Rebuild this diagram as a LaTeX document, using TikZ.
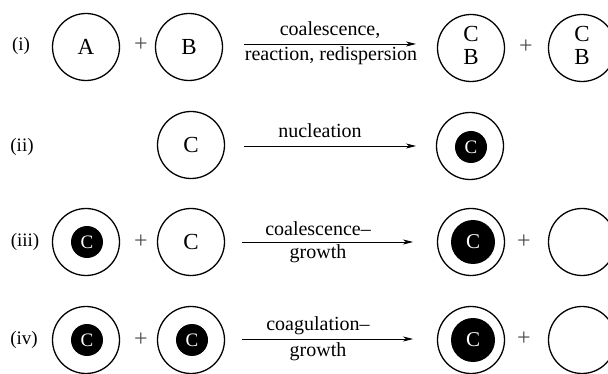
\documentclass[tikz,border=0pt]{standalone}
\usepackage{fontspec}
\setmainfont{Liberation Serif}
\newfontfamily\tms[Ligatures=TeX]{Liberation Serif}
\usetikzlibrary{arrows.meta}
\begin{document}
\begin{tikzpicture}[x=1pt,y=-1pt,
  drop/.style={circle,draw,line width=1.3pt,minimum size=67pt,inner sep=0pt,font=\tms\fontsize{23}{24}\selectfont},
  letter/.style={inner sep=0pt,font=\tms\fontsize{23}{24}\selectfont},
  coresmall/.style={circle,fill=black,minimum size=32pt,inner sep=0pt,text=white,font=\tms\fontsize{19}{20}\selectfont},
  corebig/.style={circle,fill=black,minimum size=44pt,inner sep=0pt,text=white,font=\tms\fontsize{21}{22}\selectfont},
  plus/.style={text=black!70,font=\tms\fontsize{24}{24}\selectfont,inner sep=0pt},
  rowlabel/.style={font=\tms\fontsize{19}{20}\selectfont,inner sep=0pt},
  lbl/.style={font=\tms\fontsize{20}{22}\selectfont,inner sep=0pt},
  rxn/.style={line width=0.8pt,-{Stealth[length=10pt,width=5pt,inset=3pt]}}]
\useasboundingbox (0,0) rectangle (608,374);
\clip (0,0) rectangle (608,374);
% row (i)
\node[rowlabel] (l1) at (21,46) {(i)};
\node[drop] (a1) at (86,47) {A};
\node[plus] (p1) at (141,45) {+};
\node[drop] (b1) at (189,47) {B};
\coordinate (s1) at (244,44);
\coordinate (e1) at (416,44);
\draw[rxn] (s1) -- (e1);
\node[lbl] (t1a) at (330,30) {coalescence,};
\node[lbl] (t1b) at (331,56) {reaction, redispersion};
\node[drop] (c1) at (471,48) {};
\node[letter] (c1c) at (471,34) {C};
\node[letter] (c1b) at (471,57) {B};
\node[plus] (p1r) at (526,47) {+};
\node[drop] (d1) at (582,48) {};
\node[letter] (d1c) at (582,34) {C};
\node[letter] (d1b) at (582,57) {B};
% row (ii)
\node[rowlabel] (l2) at (22,147) {(ii)};
\node[drop] (a2) at (191,145) {C};
\coordinate (s2) at (244,146);
\coordinate (e2) at (416,146);
\draw[rxn] (s2) -- (e2);
\node[lbl] (t2a) at (320,131) {nucleation};
\node[drop] (c2) at (470,146) {};
\node[coresmall] (k2) at (471,147) {C};
% row (iii)
\node[rowlabel] (l3) at (25,242) {(iii)};
\node[drop] (a3) at (86,242) {};
\node[coresmall] (k3) at (87,242) {C};
\node[plus] (p3) at (141,242) {+};
\node[drop] (b3) at (191,242) {C};
\coordinate (s3) at (242,242);
\coordinate (e3) at (413,242);
\draw[rxn] (s3) -- (e3);
\node[lbl] (t3a) at (318,229) {coalescence–};
\node[lbl] (t3b) at (318,254) {growth};
\node[drop] (c3) at (471,242) {};
\node[corebig] (k3r) at (473,242) {C};
\node[plus] (p3r) at (524,242) {+};
\node[drop] (d3) at (582,242) {};
% row (iv)
\node[rowlabel] (l4) at (24,340) {(iv)};
\node[drop] (a4) at (86,340) {};
\node[coresmall] (k4) at (87,340) {C};
\node[plus] (p4) at (141,340) {+};
\node[drop] (b4) at (191,340) {};
\node[coresmall] (k4b) at (192,340) {C};
\coordinate (s4) at (242,339);
\coordinate (e4) at (413,339);
\draw[rxn] (s4) -- (e4);
\node[lbl] (t4a) at (318,326) {coagulation–};
\node[lbl] (t4b) at (318,352) {growth};
\node[drop] (c4) at (471,340) {};
\node[corebig] (k4r) at (473,340) {C};
\node[plus] (p4r) at (524,339) {+};
\node[drop] (d4) at (582,340) {};
\end{tikzpicture}
\end{document}
